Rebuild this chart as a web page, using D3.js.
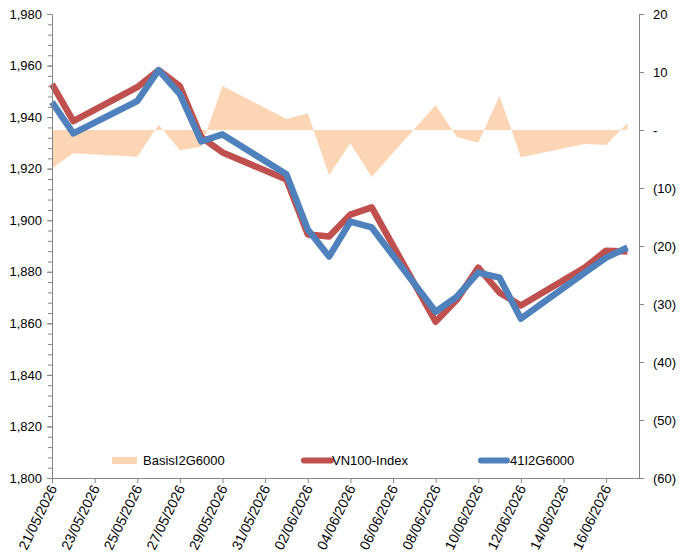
<!DOCTYPE html>
<html>
<head>
<meta charset="utf-8">
<script src="https://cdn.jsdelivr.net/npm/d3@7"></script>
<style>
  body { margin: 0; background: #fff; }
  text { font-family: "Liberation Sans", Arial, sans-serif; fill: #000; }
</style>
</head>
<body>
<svg id="chart" width="682" height="558"></svg>
<script>
// trading days
const dates = ['21/05/2026', '22/05/2026', '25/05/2026', '26/05/2026', '27/05/2026', '28/05/2026',
    '29/05/2026', '01/06/2026', '02/06/2026', '03/06/2026', '04/06/2026', '05/06/2026',
    '08/06/2026', '09/06/2026', '10/06/2026', '11/06/2026', '12/06/2026', '15/06/2026',
    '16/06/2026', '17/06/2026'];

const vn100 = [1952.8, 1938.4, 1951.6, 1958.2, 1952.0, 1932.2, 1926.3, 1915.8, 1894.5, 1893.7,
    1902.2, 1905.0, 1860.6, 1869.2, 1881.6, 1871.9, 1866.9, 1881.6, 1888.2, 1887.9];

const fut = [1945.8, 1933.7, 1946.2, 1958.2, 1948.9, 1930.6, 1933.3, 1917.8, 1896.4, 1885.9,
    1899.5, 1897.2, 1864.5, 1870.4, 1879.7, 1877.7, 1861.8, 1879.7, 1885.5, 1889.4];

const basis = [-6.6, -4.0, -4.6, 0.9, -3.5, -2.9, 7.6, 1.9, 2.9, -7.8,
    -2.3, -8.1, 4.3, -1.2, -2.2, 5.9, -4.7, -2.4, -2.6, 1.2];

const tickLabels = ['21/05/2026', '23/05/2026', '25/05/2026', '27/05/2026', '29/05/2026',
    '31/05/2026', '02/06/2026', '04/06/2026', '06/06/2026', '08/06/2026', '10/06/2026',
    '12/06/2026', '14/06/2026', '16/06/2026'];

const leftTicks = [1800, 1820, 1840, 1860, 1880, 1900, 1920, 1940, 1960, 1980];
const rightTicks = [-60, -50, -40, -30, -20, -10, 0, 10, 20];

const parse = d3.utcParse('%d/%m/%Y');
const axisColor = '#868686';

const m = { left: 52, right: 639, top: 14, bottom: 478 };

const svg = d3.select('#chart');

const x = d3.scaleUtc()
    .domain([parse('21/05/2026'), d3.utcHour.offset(parse('17/06/2026'), 13)])
    .range([m.left, m.right]);
const yL = d3.scaleLinear().domain([1800, 1980]).range([m.bottom, m.top]);
const yR = d3.scaleLinear().domain([-60, 20]).range([m.bottom, m.top]);

const rows = dates.map((d, i) => ({
    date: parse(d), vn: vn100[i], fut: fut[i], basis: basis[i]
}));

// basis area
svg.append('path')
    .datum(rows)
    .attr('fill', '#fcd5b4')
    .attr('d', d3.area()
        .x(d => x(d.date))
        .y0(yR(0))
        .y1(d => yR(d.basis)));

function drawLine(key, color) {
    svg.append('path')
        .datum(rows)
        .attr('fill', 'none')
        .attr('stroke', color)
        .attr('stroke-width', 6.5)
        .attr('stroke-linejoin', 'round')
        .attr('d', d3.line().x(d => x(d.date)).y(d => yL(d[key])));
}
drawLine('vn', '#c0504d');
drawLine('fut', '#4f81bd');

// left axis
const gL = svg.append('g').attr('transform', `translate(${m.left},0)`)
    .call(d3.axisLeft(yL).tickValues(leftTicks).tickSize(5).tickPadding(5)
        .tickFormat(d3.format(',')));
gL.append('g')
    .call(d3.axisLeft(yL).tickValues(d3.range(1800, 1981, 4)).tickSize(4).tickFormat(''))
    .select('.domain').remove();

// right axis
const fmtR = v => v === 0 ? '-' : v < 0 ? `(${-v})` : `${v}`;
const gR = svg.append('g').attr('transform', `translate(${m.right},0)`)
    .call(d3.axisRight(yR).tickValues(rightTicks).tickSize(5).tickPadding(9).tickFormat(fmtR));

// bottom axis
const gB = svg.append('g').attr('transform', `translate(0,${m.bottom})`)
    .call(d3.axisBottom(x).tickValues(tickLabels.map(parse)).tickSize(5).tickSizeOuter(0)
        .tickFormat(d3.utcFormat('%d/%m/%Y')));

[gL, gR, gB].forEach(g => {
    g.selectAll('path.domain, line').attr('stroke', axisColor);
    g.selectAll('text').attr('font-size', 13).attr('font-family', '"Liberation Sans", Arial, sans-serif').attr('fill', '#000');
});

gB.selectAll('.tick text')
    .attr('font-size', 14)
    .attr('text-anchor', 'end')
    .attr('dy', null)
    .attr('y', 0)
    .attr('transform', 'translate(5,10) rotate(-64)');

// legend
const legend = svg.append('g').attr('font-size', 13);
legend.append('rect').attr('x', 112).attr('y', 457).attr('width', 25).attr('height', 7).attr('fill', '#fcd5b4');
legend.append('text').attr('x', 143).attr('y', 465).text('BasisI2G6000');
legend.append('line').attr('x1', 304).attr('x2', 331).attr('y1', 460.5).attr('y2', 460.5)
    .attr('stroke', '#c0504d').attr('stroke-width', 6).attr('stroke-linecap', 'round');
legend.append('text').attr('x', 332).attr('y', 465).text('VN100-Index');
legend.append('line').attr('x1', 481).attr('x2', 507).attr('y1', 460.5).attr('y2', 460.5)
    .attr('stroke', '#4f81bd').attr('stroke-width', 6).attr('stroke-linecap', 'round');
legend.append('text').attr('x', 510).attr('y', 465).text('41I2G6000');
</script>
</body>
</html>
